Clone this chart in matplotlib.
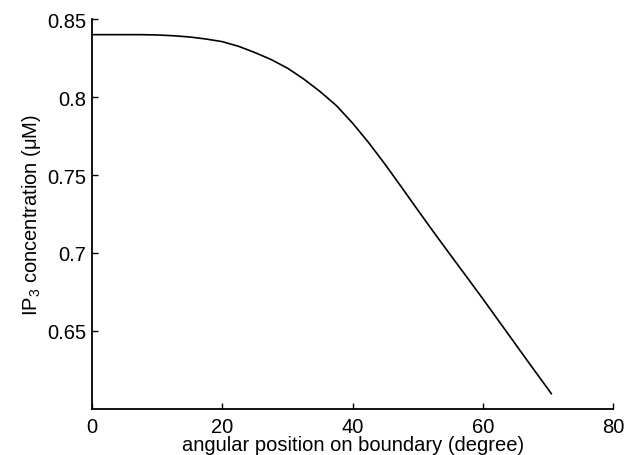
import matplotlib as mpl
import matplotlib.pyplot as plt
import numpy as np

mpl.rcParams.update({'font.size': 14.5, 'font.family': 'Liberation Sans',
                     'mathtext.default': 'regular'})

# curve
angle = [0, 5, 7.5, 10, 12.5, 15, 17.5, 20, 22.5, 25, 27.5, 30, 32.5, 35,
         37.5, 40, 42.5, 45, 47.5, 50, 52.5, 55, 57.5, 60, 62.5, 65, 67.5,
         70, 70.5]
conc = [0.840, 0.840, 0.840, 0.8398, 0.8393, 0.8385, 0.8372, 0.8355, 0.8325,
        0.8285, 0.8240, 0.8185, 0.8115, 0.8035, 0.7945, 0.7832, 0.7705,
        0.7567, 0.7422, 0.7275, 0.7130, 0.6988, 0.6847, 0.6705, 0.6560,
        0.6415, 0.6270, 0.6127, 0.6098]

xticks = [0, 20, 40, 60, 80]
yticks = [0.65, 0.7, 0.75, 0.8, 0.85]
yticklabels = ['0.65', '0.7', '0.75', '0.8', '0.85']

fig = plt.figure(figsize=(6.27, 4.56), dpi=100)
ax = fig.add_axes([0.147, 0.101, 0.831, 0.855])

ax.plot(angle, conc, color='black', lw=1.2)

ax.set_xlim(0, 80)
ax.set_ylim(0.6, 0.85)
ax.set_xticks(xticks)
ax.set_yticks(yticks)
ax.set_yticklabels(yticklabels)

ax.spines['top'].set_visible(False)
ax.spines['right'].set_visible(False)
for s in ['left', 'bottom']:
    ax.spines[s].set_linewidth(1.3)
ax.tick_params(direction='in', length=4, width=1)
ax.tick_params(axis='x', pad=6)
ax.tick_params(axis='y', pad=4)

ax.set_xlabel('angular position on boundary (degree)', labelpad=-1)
ax.set_ylabel('IP$_3$ concentration (μM)', labelpad=3)

plt.savefig('out.png', dpi=100)
